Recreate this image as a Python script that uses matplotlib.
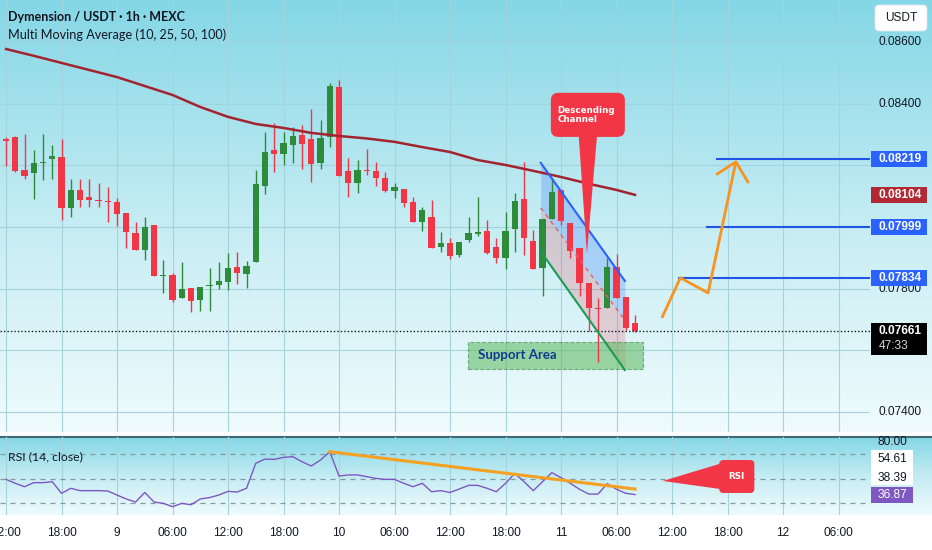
import numpy as np
import matplotlib.pyplot as plt
from matplotlib.patches import Rectangle, Polygon, FancyBboxPatch
from matplotlib.colors import LinearSegmentedColormap
from matplotlib.lines import Line2D

# hours counted from day 9, 00:00 (1h candles)
hours = np.arange(-12, 57)
opens = [0.08285, 0.08292, 0.08185, 0.08175, 0.08209, 0.08221, 0.08227, 0.08062, 0.08120, 0.08097,
         0.08088, 0.08084, 0.08081, 0.08045, 0.07981, 0.07925, 0.08007, 0.07841, 0.07844, 0.07770,
         0.07802, 0.07763, 0.07809, 0.07812, 0.07822, 0.07870, 0.07848, 0.07887, 0.08133, 0.08250,
         0.08237, 0.08266, 0.08298, 0.08285, 0.08208, 0.08292, 0.08454, 0.08182, 0.08143, 0.08185,
         0.08182, 0.08159, 0.08117, 0.08123, 0.08081, 0.08016, 0.08032, 0.07935, 0.07948, 0.07909,
         0.07958, 0.07977, 0.07987, 0.07935, 0.07900, 0.07994, 0.08091, 0.07955, 0.07867, 0.08026,
         0.08120, 0.08013, 0.07932, 0.07818, 0.07737, 0.07737, 0.07870, 0.07773, 0.07689]
highs = [0.08292, 0.08295, 0.08302, 0.08250, 0.08302, 0.08266, 0.08285, 0.08156, 0.08156, 0.08156,
         0.08143, 0.08130, 0.08094, 0.08045, 0.08016, 0.08032, 0.08007, 0.07893, 0.07851, 0.07887,
         0.07802, 0.07805, 0.07867, 0.07887, 0.07916, 0.07919, 0.07890, 0.08185, 0.08308, 0.08337,
         0.08308, 0.08324, 0.08331, 0.08383, 0.08347, 0.08467, 0.08477, 0.08224, 0.08217, 0.08253,
         0.08211, 0.08178, 0.08143, 0.08123, 0.08097, 0.08065, 0.08088, 0.07984, 0.07964, 0.07951,
         0.08032, 0.08097, 0.08023, 0.07964, 0.08049, 0.08110, 0.08211, 0.07990, 0.08026, 0.08159,
         0.08120, 0.08013, 0.07932, 0.07818, 0.07770, 0.07900, 0.07912, 0.07773, 0.07715]
lows = [0.08198, 0.08178, 0.08156, 0.08091, 0.08152, 0.08156, 0.08023, 0.08032, 0.08065, 0.08065,
        0.08065, 0.08016, 0.08003, 0.07932, 0.07925, 0.07893, 0.07841, 0.07786, 0.07757, 0.07770,
        0.07724, 0.07728, 0.07728, 0.07799, 0.07796, 0.07815, 0.07802, 0.07887, 0.08107, 0.08178,
        0.08201, 0.08208, 0.08188, 0.08146, 0.08188, 0.08259, 0.08165, 0.08097, 0.08110, 0.08169,
        0.08133, 0.08114, 0.08094, 0.08065, 0.08016, 0.07987, 0.07932, 0.07919, 0.07896, 0.07903,
        0.07951, 0.07971, 0.07912, 0.07883, 0.07864, 0.07919, 0.07909, 0.07864, 0.07776, 0.08026,
        0.08007, 0.07900, 0.07776, 0.07663, 0.07562, 0.07737, 0.07770, 0.07666, 0.07660]
closes = [0.08279, 0.08182, 0.08165, 0.08208, 0.08211, 0.08230, 0.08062, 0.08120, 0.08088, 0.08088,
          0.08084, 0.08081, 0.08042, 0.07984, 0.07925, 0.08000, 0.07841, 0.07844, 0.07763, 0.07799,
          0.07760, 0.07805, 0.07812, 0.07825, 0.07867, 0.07851, 0.07874, 0.08140, 0.08243, 0.08237,
          0.08272, 0.08295, 0.08269, 0.08204, 0.08289, 0.08457, 0.08165, 0.08143, 0.08185, 0.08182,
          0.08159, 0.08117, 0.08130, 0.08078, 0.08016, 0.08055, 0.07932, 0.07948, 0.07906, 0.07951,
          0.07981, 0.07984, 0.07916, 0.07900, 0.07987, 0.08084, 0.07964, 0.07864, 0.08026, 0.08114,
          0.08019, 0.07922, 0.07818, 0.07737, 0.07734, 0.07870, 0.07770, 0.07672, 0.07661]

# MA(100) read every 3 candles
ma_hours = list(range(-12, 55, 3)) + [56]
ma_vals = [0.08577, 0.08555, 0.08532, 0.08509, 0.08486, 0.08457, 0.08428, 0.08389, 0.08357, 0.08334,
           0.08321, 0.08305, 0.08295, 0.08287, 0.08276, 0.08259, 0.08243, 0.08217, 0.08201, 0.08182,
           0.08162, 0.08140, 0.08120, 0.08104]

rsi = [49.3, 46.1, 43.3, 46.6, 46.6, 47.4, 37.9, 42.0, 40.1, 40.1,
       40.1, 39.8, 36.5, 33.3, 30.8, 38.6, 30.8, 29.7, 27.0, 29.7,
       28.6, 33.3, 34.4, 36.5, 39.5, 39.0, 42.0, 62.4, 65.9, 65.6,
       67.3, 67.8, 63.7, 60.2, 65.1, 71.9, 52.0, 52.9, 52.9, 51.5,
       50.1, 49.3, 49.3, 46.1, 43.3, 46.1, 39.2, 40.1, 38.6, 41.4,
       44.4, 44.4, 42.0, 39.2, 46.1, 54.2, 47.4, 40.1, 47.4, 54.8,
       50.7, 46.1, 41.2, 37.3, 37.3, 45.8, 41.2, 37.9, 36.87]

price_grid = [0.086, 0.084, 0.082, 0.080, 0.078, 0.076, 0.074]
price_labels = [0.086, 0.084, 0.078, 0.074]   # the others sit under the marker boxes
time_ticks = list(range(-12, 82, 6))
time_labels = ['12:00', '18:00', '9', '06:00', '12:00', '18:00', '10', '06:00', '12:00', '18:00',
               '11', '06:00', '12:00', '18:00', '12', '06:00']
rsi_scale = ['80.00', '54.61', '38.39']

# drawings
chan_x = [45.8, 54.9]
chan_upper = [0.08208, 0.07825]
chan_mid = [0.08062, 0.07698]
chan_lower = [0.07921, 0.07536]
support_x = [37.95, 56.9]
support_y = [0.07540, 0.07627]
levels = [0.08219, 0.07999, 0.07834]
level_start = [64.9, 63.8, 60.8]
path_x = [58.9, 60.9, 63.9, 66.9]
path_y = [0.07705, 0.07835, 0.07786, 0.08211]
head_x = [64.9, 66.9, 68.2]
head_y = [0.08172, 0.08211, 0.08146]
rsi_trend_x = [23.0, 56.0]
rsi_trend_y = [71.9, 41.4]
last_price = 0.07661
ma_last = 0.08104

W, H = 932, 550
UP, DOWN = '#2e8b3a', '#f23645'
GRID = '#a5d3dc'
SCALE_FONT = 'Liberation Sans'


def frect(x0, y0, x1, y1):
    return [x0 / W, 1 - y1 / H, (x1 - x0) / W, (y1 - y0) / H]


fig = plt.figure(figsize=(W / 100, H / 100), dpi=100)
fig.patch.set_facecolor('white')

cmap = LinearSegmentedColormap.from_list('bg', ['#84d7e6', '#c4ecf3', '#f0fbfd'])
grad = np.linspace(0, 1, 256).reshape(-1, 1)
for r in [(0, 0, 932, 432), (0, 437, 932, 515)]:
    b = fig.add_axes(frect(*r))
    b.imshow(grad, aspect='auto', cmap=cmap, extent=[0, 1, 0, 1])
    b.axis('off')

xlim = (-12.65, 81.4)
ax = fig.add_axes(frect(0, 0, 870, 432))
ax.set_facecolor('none')
ax.set_xlim(*xlim)
ax.set_ylim(0.07335, 0.08736)
ax.axis('off')
for p in price_grid:
    ax.axhline(p, color=GRID, lw=0.8, zorder=0)
for t in time_ticks:
    ax.axvline(t, color=GRID, lw=0.8, zorder=0)

# candles
o, c, hi, lo = map(np.array, (opens, closes, highs, lows))
cols = np.where(c >= o, UP, DOWN)
ax.vlines(hours, lo, hi, colors=cols, lw=1, zorder=3)
ax.bar(hours, np.maximum(np.abs(c - o), 0.00003), bottom=np.minimum(o, c), width=0.68,
       color=cols, zorder=4)

ax.plot(ma_hours, ma_vals, color='#a3232f', lw=1.8, zorder=5)

# descending channel
ax.fill_between(chan_x, chan_mid, chan_upper, color='#2962ff', alpha=0.22, lw=0, zorder=2)
ax.fill_between(chan_x, chan_lower, chan_mid, color='#f23645', alpha=0.2, lw=0, zorder=2)
ax.plot(chan_x, chan_upper, color='#2962ff', lw=1.5, zorder=6)
ax.plot(chan_x, chan_mid, color='#e06070', lw=1, ls=(0, (3, 3)), zorder=6)
ax.plot(chan_x, chan_lower, color='#1f9a55', lw=1.5, zorder=6)

# support area
ax.add_patch(Rectangle((support_x[0], support_y[0]), support_x[1] - support_x[0],
                       support_y[1] - support_y[0], fc='#5cb85c', alpha=0.55, ec='#2e7d32',
                       ls='--', lw=0.8, zorder=2))
ax.text(support_x[0] + 1.05, np.mean(support_y), 'Support Area', color='#0d3c8c',
        fontsize=9.5, fontweight='bold', family='Lato', va='center', zorder=7)

# callout "Descending Channel"
asp = 3.243e-5 / 0.1081
ax.add_patch(Polygon([(49.9, 0.08300), (51.9, 0.08300), (50.8, 0.07913)], closed=True,
                     fc='#f23645', ec='none', zorder=8))
ax.add_patch(FancyBboxPatch((46.9, 0.08292), 8.0, 0.00143,
                            boxstyle='round,pad=0,rounding_size=0.8', mutation_aspect=asp,
                            fc='#f23645', ec='none', zorder=8))
ax.text(47.6, 0.08363, 'Descending\nChannel', color='white', fontsize=6.3, fontweight='bold',
        va='center', linespacing=1.0, zorder=9)

# projection path
ax.plot(path_x, path_y, color='#f7931e', lw=2, zorder=6, solid_capstyle='butt')
ax.plot(head_x, head_y, color='#f7931e', lw=2, zorder=6)
for lv, st in zip(levels, level_start):
    ax.plot([st, xlim[1]], [lv, lv], color='#2155e8', lw=1.5, zorder=5)

ax.axhline(last_price, color='#131722', ls=(0, (1, 1.5)), lw=1, zorder=5)

# header
fig.text(8 / W, 1 - 17 / H, 'Dymension / USDT \u00b7 1h \u00b7 MEXC', fontsize=9,
         fontweight='bold', family='Lato', color='#131722', va='center')
fig.text(8 / W, 1 - 35 / H, 'Multi Moving Average (10, 25, 50, 100)', fontsize=9.1,
         family='Lato', color='#131722', va='center')

# price scale
yt = ax.get_yaxis_transform()
ppx = 3.243e-5
tx = 879 / 870
for p in price_labels:
    ax.text(tx, p, f'{p:.5f}', transform=yt, fontsize=8.6, family=SCALE_FONT, color='#131722',
            va='center', clip_on=False, zorder=10)
box_x0, box_w = 871 / 870, 56 / 870
for lv, fc in [(levels[0], '#2962ff'), (ma_last, '#b22833'), (levels[1], '#2962ff'),
               (levels[2], '#2962ff')]:
    ax.add_patch(Rectangle((box_x0, lv - 8 * ppx), box_w, 16 * ppx, transform=yt, fc=fc,
                           ec='none', clip_on=False, zorder=11))
    ax.text(tx, lv, f'{lv:.5f}', transform=yt, fontsize=8.6, family=SCALE_FONT, color='white',
            fontweight='bold', va='center', clip_on=False, zorder=12)
ax.add_patch(Rectangle((box_x0, last_price - 24 * ppx), box_w, 32 * ppx, transform=yt,
                       fc='black', ec='none', clip_on=False, zorder=11))
ax.text(tx, last_price, f'{last_price:.5f}', transform=yt, fontsize=8.6, family=SCALE_FONT,
        color='white', fontweight='bold', va='center', clip_on=False, zorder=12)
ax.text(tx, last_price - 15 * ppx, '47:33', transform=yt, fontsize=8.6, family=SCALE_FONT,
        color='#d8d8d8', va='center', clip_on=False, zorder=12)

ua = fig.add_axes([0, 0, 1, 1])
ua.set_xlim(0, W)
ua.set_ylim(H, 0)
ua.axis('off')
ua.add_patch(FancyBboxPatch((875, 5), 52, 26, boxstyle='round,pad=0,rounding_size=4',
                            fc='white', ec='#e0e3eb', lw=0.6))
ua.text(901, 18, 'USDT', fontsize=8.6, family=SCALE_FONT, color='#131722', ha='center',
        va='center')
ua.add_line(Line2D([0, W], [437, 437], color='#3b6a74', lw=1.5))

# RSI pane
rx = fig.add_axes(frect(0, 437, 870, 515))
rx.set_facecolor('none')
rx.set_xlim(*xlim)
rx.set_ylim(20.2, 83.9)
rx.axis('off')
for t in time_ticks:
    rx.axvline(t, color=GRID, lw=0.8, zorder=0)
for lvl in (70, 50, 30):
    rx.axhline(lvl, color='#7f9aa3', lw=0.9, ls=(0, (4, 4)), zorder=1)
rx.plot(hours, rsi, color='#7e57c2', lw=1, zorder=3)
rx.plot(rsi_trend_x, rsi_trend_y, color='#f5a020', lw=2.2, zorder=4)
rx.text(8 / 870, 0.75, 'RSI (14, close)', transform=rx.transAxes, fontsize=8.8,
        family='Lato', color='#131722', va='center')
rasp = (1 / 1.225) / 0.1081
rx.add_patch(Polygon([(59.0, 48.0), (65.6, 63.0), (65.6, 41.0)], closed=True, fc='#f23645',
                     ec='none', zorder=6))
rx.add_patch(FancyBboxPatch((65.1, 38.2), 3.8, 26.9, boxstyle='round,pad=0,rounding_size=0.45',
                            mutation_aspect=rasp, fc='#f23645', ec='none', zorder=6))
rx.text(67.0, 51.5, 'RSI', color='white', fontsize=6.3, fontweight='bold', ha='center',
        va='center', zorder=7)

# RSI scale labels
ua.add_patch(Rectangle((871, 450), 42, 35, fc='white', ec='none'))
ua.add_patch(Rectangle((871, 487), 42, 16, fc='#7e57c2', ec='none'))
for y, s, col in [(442, rsi_scale[0], '#131722'), (459, rsi_scale[1], '#131722'),
                  (478, rsi_scale[2], '#131722'), (495, f'{rsi[-1]:.2f}', 'white')]:
    ua.text(878, y, s, fontsize=8.6, family=SCALE_FONT, color=col, va='center')

# time axis
for t, lab in zip(time_ticks, time_labels):
    ua.text(117 + 9.25 * t, 533, lab, fontsize=8.6, family=SCALE_FONT, color='#131722',
            ha='center', va='center')

fig.savefig('out.png', dpi=100)
